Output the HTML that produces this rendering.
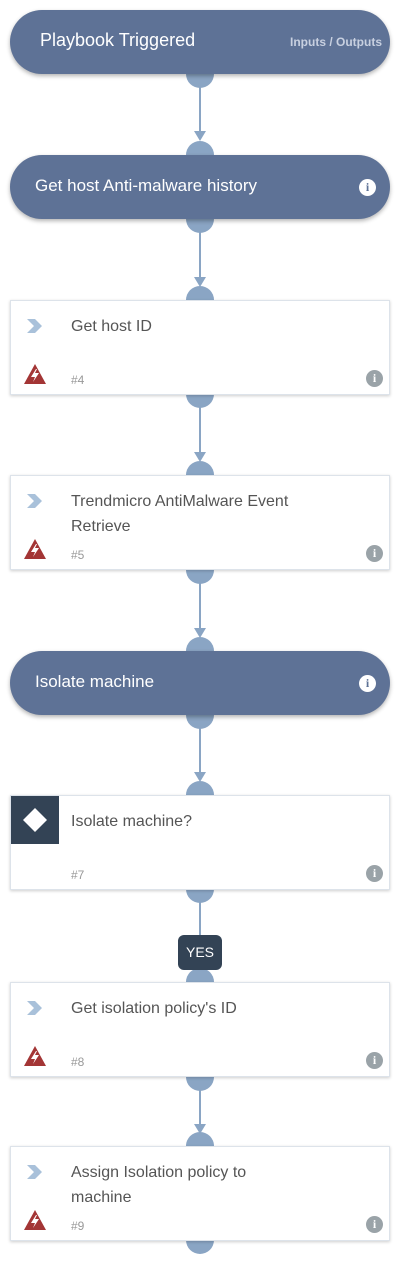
<!DOCTYPE html>
<html><head><style>
body{margin:0;width:400px;height:1265px;background:#fff;position:relative;font-family:"Liberation Sans",sans-serif;overflow:hidden}
.abs{position:absolute}
.hdr{position:absolute;left:10px;width:380px;height:64px;border-radius:32px;background:#5e7296;box-shadow:0 2px 4px rgba(0,0,0,.3);color:#fff;font-size:17px}
.hdr .t{position:absolute;top:21px}
.port{position:absolute;left:186px;width:28px;height:28px;border-radius:50%;background:#8aa5c4}
.line{position:absolute;left:199px;width:2px;background:#8aa5c4}
.arr{position:absolute;left:194px;width:0;height:0;border-left:6px solid transparent;border-right:6px solid transparent;border-top:10px solid #8aa5c4}
.card{position:absolute;left:10px;width:378px;height:93px;background:#fff;border:1px solid #dde3ea;box-shadow:0 1px 3px rgba(0,0,0,.2)}
.card .t{position:absolute;left:60px;top:13px;font-size:16px;color:#555;line-height:25px}
.card .n{position:absolute;left:60px;top:72px;font-size:12px;color:#999}
.info{position:absolute;width:17px;height:17px;border-radius:50%;background:#9aa3a8;color:#fff;font:bold 12px "Liberation Serif",serif;text-align:center;line-height:17px}
.chev{position:absolute;left:16px;top:18px}
.warn{position:absolute;left:12px;top:62px}
</style></head><body>

<div class="line" style="top:86px;height:48px"></div><div class="arr" style="top:131px"></div>
<div class="line" style="top:232px;height:48px"></div><div class="arr" style="top:277px"></div>
<div class="line" style="top:406px;height:50px"></div><div class="arr" style="top:452px"></div>
<div class="line" style="top:582px;height:50px"></div><div class="arr" style="top:628px"></div>
<div class="line" style="top:727px;height:49px"></div><div class="arr" style="top:772px"></div>
<div class="line" style="top:900px;height:40px"></div>
<div class="line" style="top:1089px;height:39px"></div><div class="arr" style="top:1124px"></div>

<div class="port" style="top:60px"></div>
<div class="port" style="top:141px"></div>
<div class="port" style="top:205px"></div>
<div class="port" style="top:286px"></div>
<div class="port" style="top:380px"></div>
<div class="port" style="top:461px"></div>
<div class="port" style="top:556px"></div>
<div class="port" style="top:637px"></div>
<div class="port" style="top:701px"></div>
<div class="port" style="top:781px"></div>
<div class="port" style="top:875px"></div>
<div class="port" style="top:968px"></div>
<div class="port" style="top:1063px"></div>
<div class="port" style="top:1132px"></div>
<div class="port" style="top:1226px"></div>

<div class="hdr" style="top:10px"><span class="t" style="left:30px;font-size:18px;top:20px">Playbook Triggered</span><span class="abs" style="right:8px;top:25px;font-size:12px;font-weight:bold;color:#c8d0e0">Inputs / Outputs</span></div>
<div class="hdr" style="top:155px"><span class="t" style="left:25px">Get host Anti-malware history</span><span class="info" style="left:349px;top:24px;background:#fff;color:#5e7296">i</span></div>

<div class="card" style="top:300px"><span class="chev"><svg width="16" height="14"><path d="M0 0h8l7 7-7 7H0l7-7z" fill="#a9c1da"/></svg></span><span class="t">Get host ID</span><span class="warn"><svg width="24" height="22"><path d="M12 1L23 21H1z" fill="#a33535"/><path d="M13 6l-5 8h4l-2 5 6-9h-4l2-4z" fill="#fff"/></svg></span><span class="n">#4</span><span class="info" style="left:355px;top:69px">i</span></div>

<div class="card" style="top:475px"><span class="chev"><svg width="16" height="14"><path d="M0 0h8l7 7-7 7H0l7-7z" fill="#a9c1da"/></svg></span><span class="t">Trendmicro AntiMalware Event<br>Retrieve</span><span class="warn"><svg width="24" height="22"><path d="M12 1L23 21H1z" fill="#a33535"/><path d="M13 6l-5 8h4l-2 5 6-9h-4l2-4z" fill="#fff"/></svg></span><span class="n">#5</span><span class="info" style="left:355px;top:69px">i</span></div>

<div class="hdr" style="top:651px"><span class="t" style="left:25px">Isolate machine</span><span class="info" style="left:349px;top:24px;background:#fff;color:#5e7296">i</span></div>

<div class="card" style="top:795px"><div class="abs" style="left:0;top:0;width:48px;height:48px;background:#334355"><svg width="48" height="48"><path d="M24 12l12 12-12 12-12-12z" fill="#fff"/></svg></div><span class="t">Isolate machine?</span><span class="n">#7</span><span class="info" style="left:355px;top:69px">i</span></div>

<div class="abs" style="left:178px;top:935px;width:44px;height:35px;border-radius:6px;background:#334355;color:#fff;font-size:14px;text-align:center;line-height:35px">YES</div>

<div class="card" style="top:982px"><span class="chev"><svg width="16" height="14"><path d="M0 0h8l7 7-7 7H0l7-7z" fill="#a9c1da"/></svg></span><span class="t">Get isolation policy's ID</span><span class="warn"><svg width="24" height="22"><path d="M12 1L23 21H1z" fill="#a33535"/><path d="M13 6l-5 8h4l-2 5 6-9h-4l2-4z" fill="#fff"/></svg></span><span class="n">#8</span><span class="info" style="left:355px;top:69px">i</span></div>

<div class="card" style="top:1146px"><span class="chev"><svg width="16" height="14"><path d="M0 0h8l7 7-7 7H0l7-7z" fill="#a9c1da"/></svg></span><span class="t">Assign Isolation policy to<br>machine</span><span class="warn"><svg width="24" height="22"><path d="M12 1L23 21H1z" fill="#a33535"/><path d="M13 6l-5 8h4l-2 5 6-9h-4l2-4z" fill="#fff"/></svg></span><span class="n">#9</span><span class="info" style="left:355px;top:69px">i</span></div>

</body></html>
